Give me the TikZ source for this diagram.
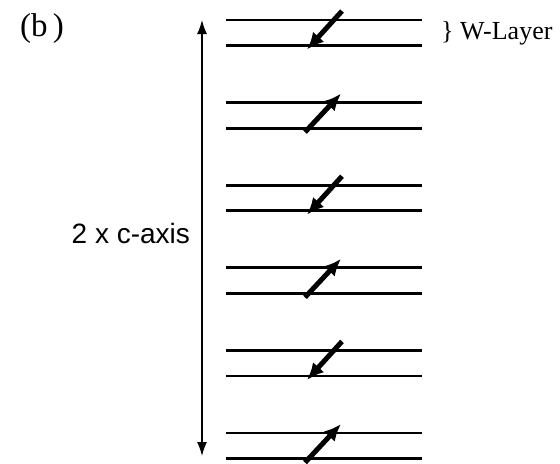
\documentclass[tikz,border=0pt]{standalone}
\usepackage{fontspec}
\setmainfont{Liberation Serif}
\setsansfont{Liberation Sans}
\usetikzlibrary{positioning,arrows.meta}

\begin{document}
\begin{tikzpicture}[x=0.5pt,y=-0.5pt,
    layer/.style={line width=1.4pt},
    spin/.style={line width=2.5pt,-{Latex[length=8.5pt,width=7.5pt]}},
    caxis/.style={line width=0.7pt,{Latex[length=7pt,width=5pt]}-{Latex[length=7pt,width=5pt]}}]
  \useasboundingbox (0,0) rectangle (560,463);

  % panel label
  \node (panel) at (42,29) {\fontsize{16.5}{18}\selectfont (b\,)};

  % the double layers, with the moment in each
  \foreach \i/\up in {1/0,2/1,3/0,4/1,5/0,6/1} {
    \pgfmathsetmacro{\yt}{20+82.6*(\i-1)}
    \pgfmathsetmacro{\yb}{\yt+25.5}
    \coordinate (tl\i) at (226,\yt);
    \coordinate (tr\i) at (422,\yt);
    \coordinate (bl\i) at (226,\yb);
    \coordinate (br\i) at (422,\yb);
    \draw[layer] (tl\i) -- (tr\i);
    \draw[layer] (bl\i) -- (br\i);
    \ifnum\up=1
      \coordinate (s\i) at (305,\yb+4);
      \coordinate (e\i) at (341,\yt-9);
    \else
      \coordinate (s\i) at (342,\yt-9);
      \coordinate (e\i) at (307,\yb+4);
    \fi
    \draw[spin] (s\i) -- (e\i);
  }

  % label of one layer
  \node[anchor=west] (wlayer) at (434,33) {\fontsize{13}{15}\selectfont \} W-Layer};

  % the length of two c-axes
  \coordinate (atop) at (202,20);
  \coordinate (abot) at (202,456);
  \draw[caxis] (atop) -- (abot);
  \node[anchor=east] (clen) at (197,233) {\fontsize{14}{16}\selectfont\sffamily 2 x c-axis};
\end{tikzpicture}
\end{document}
